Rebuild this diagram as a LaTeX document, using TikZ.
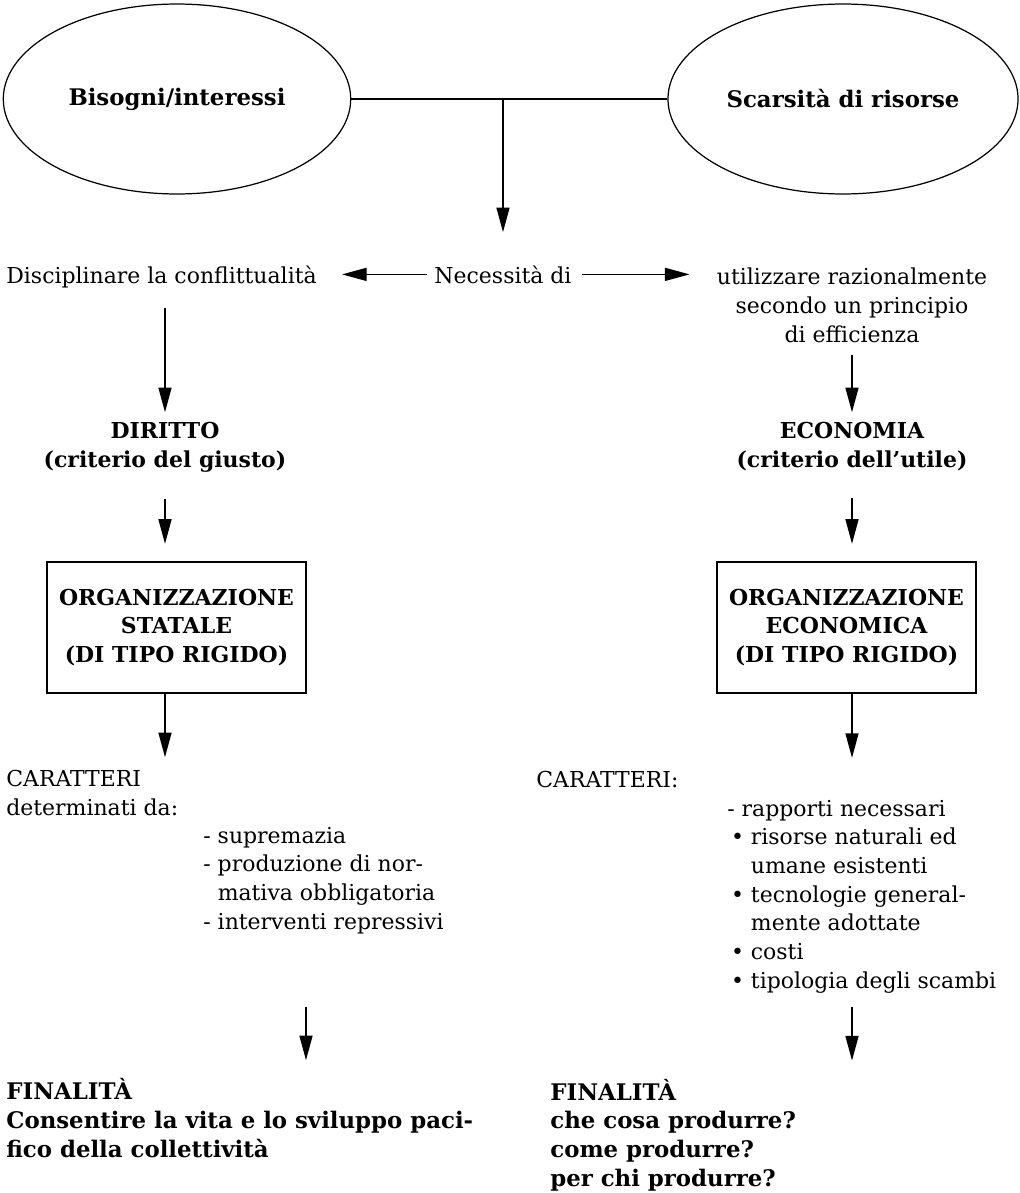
\documentclass[tikz,border=0pt]{standalone}
\usepackage{fontspec}
\setmainfont{DejaVu Serif}
\usetikzlibrary{positioning,arrows.meta,shapes.geometric}
\tikzset{
  freccia/.style={-{Triangle[length=14pt,width=7.4pt]},line width=0.85pt},
  cerchio/.style={ellipse,draw,line width=0.7pt,minimum width=6.95cm,minimum height=3.8cm,font=\fontsize{13}{16}\bfseries},
  riquadro/.style={draw,line width=1.4pt,minimum width=5.18cm,minimum height=2.62cm,align=center,font=\bfseries},
  testo/.style={inner sep=0pt,align=left},
}
\begin{document}
\begin{tikzpicture}[x=0.02cm,y=-0.02cm]
		\useasboundingbox (0,0) rectangle (1019,1193);
		\fontsize{12.5}{16.3}\selectfont
		% Origine del problema
		\node[cerchio] (bisogni) at (177,99) {Bisogni/interessi};
		\node[cerchio] (scarsita) at (843,99) {Scarsità di risorse};
		\draw[line width=1pt] (bisogni) -- (scarsita);
		\coordinate (snodo) at (503,99);
		\node[testo,anchor=base] (necessita) at (503,283) {Necessità di};
		\draw[freccia,shorten >=0.66cm] (snodo) -- (necessita);
		\node[testo,anchor=base west] (disciplinare) at (6,283) {Disciplinare la conflittualità};
		\node[testo,anchor=base,align=center] (utilizzare) at (852,342) {utilizzare razionalmente\\secondo un principio\\di efficienza};
		\draw[freccia,shorten <=0.14cm,shorten >=0.5cm] (necessita.west) -- (necessita.west -| disciplinare.east);
		\draw[freccia,shorten <=0.2cm,shorten >=0.54cm] (necessita.east) -- (necessita.east -| utilizzare.west);
		% Diritto
		\node[testo,anchor=base,align=center,font=\bfseries] (diritto) at (165,467) {DIRITTO\\(criterio del giusto)};
		\draw[freccia,shorten <=0.4cm,shorten >=0.19cm] (disciplinare.south -| diritto.north) -- (diritto.north);
		\node[riquadro] (statale) at (176.5,627.5) {ORGANIZZAZIONE\\STATALE\\(DI TIPO RIGIDO)};
		\draw[freccia,shorten <=0.54cm,shorten >=0.34cm] (diritto.south) -- (diritto.south |- statale.north);
		\node[testo,anchor=base west] (caratteri) at (6,815) {CARATTERI\\determinati da:};
		\draw[freccia,shorten >=0.25cm] (statale.south -| diritto) -- (diritto |- caratteri.north);
		\node[testo,anchor=base west] (lista) at (203,929) {- supremazia\\- produzione di nor-\\\hphantom{- }mativa obbligatoria\\- interventi repressivi};
		% Economia
		\node[testo,anchor=base,align=center,font=\bfseries] (economia) at (852,467) {ECONOMIA\\(criterio dell’utile)};
		\draw[freccia,shorten <=0.24cm,shorten >=0.19cm] (utilizzare.south -| economia.north) -- (economia.north);
		\node[riquadro] (economica) at (846.5,627.5) {ORGANIZZAZIONE\\ECONOMICA\\(DI TIPO RIGIDO)};
		\draw[freccia,shorten <=0.54cm,shorten >=0.34cm] (economia.south) -- (economia.south |- economica.north);
		\node[testo,anchor=base west] (caratteri2) at (536,787) {CARATTERI:};
		\node[testo,anchor=base west] (elenco) at (727,988) {- rapporti necessari\\\,•\ risorse naturali ed\\\hphantom{\,•\ }umane esistenti\\\,•\ tecnologie general-\\\hphantom{\,•\ }mente adottate\\\,•\ costi\\\,•\ tipologia degli scambi};
		\draw[freccia,shorten >=0.25cm] (economica.south -| economia) -- (economia |- caratteri2.north);
		% Finalita
		\coordinate (asse) at (306,0);
		\node[testo,anchor=base west,font=\fontsize{13}{16.3}\bfseries] (fine) at (6,1157) {FINALITÀ\\Consentire la vita e lo sviluppo paci-\\fico della collettività};
		\node[testo,anchor=base west,font=\fontsize{13}{16.3}\bfseries] (fine2) at (550,1186) {FINALITÀ\\che cosa produrre?\\come produrre?\\per chi produrre?};
		\draw[freccia,shorten <=0.27cm,shorten >=0.36cm] (elenco.south -| asse) -- (fine.north -| asse);
		\draw[freccia,shorten <=0.27cm,shorten >=0.36cm] (elenco.south -| economia) -- (fine2.north -| economia);
	\end{tikzpicture}
\end{document}
